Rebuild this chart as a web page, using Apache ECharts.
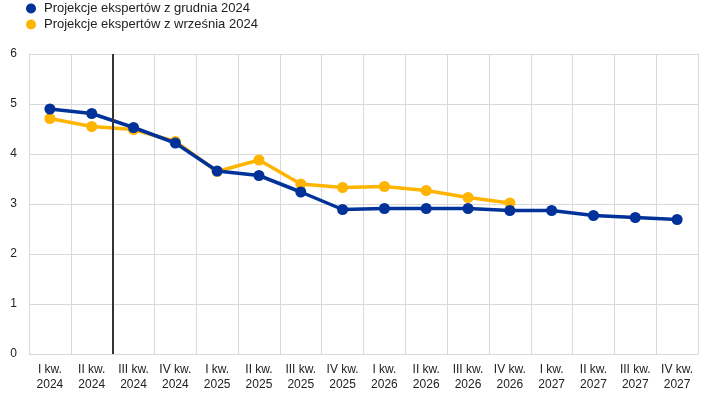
<!DOCTYPE html>
<html>
<head>
<meta charset="utf-8">
<script src="https://cdn.jsdelivr.net/npm/echarts@6/dist/echarts.min.js"></script>
<style>html,body{margin:0;padding:0;background:#fff;}#c{width:708px;height:397px;}</style>
</head>
<body>
<div id="c"></div>
<script>
const categories = ['I kw.\n2024','II kw.\n2024','III kw.\n2024','IV kw.\n2024','I kw.\n2025','II kw.\n2025','III kw.\n2025','IV kw.\n2025','I kw.\n2026','II kw.\n2026','III kw.\n2026','IV kw.\n2026','I kw.\n2027','II kw.\n2027','III kw.\n2027','IV kw.\n2027'];
const decemberName = 'Projekcje ekspertów z grudnia 2024';
const septemberName = 'Projekcje ekspertów z września 2024';
const december = [4.90, 4.81, 4.53, 4.22, 3.66, 3.57, 3.24, 2.89, 2.91, 2.91, 2.91, 2.87, 2.87, 2.77, 2.73, 2.69];
const september = [4.71, 4.55, 4.49, 4.25, 3.65, 3.88, 3.40, 3.33, 3.35, 3.27, 3.13, 3.02];
const yTicks = [0, 1, 2, 3, 4, 5, 6];
const cutoffPosition = 1.5;

const chart = echarts.init(document.getElementById('c'), null, {renderer: 'canvas'});
const font = 'Arial, "Liberation Sans", sans-serif';
chart.setOption({
  animation: false,
  textStyle: {fontFamily: font},
  legend: {
    orient: 'vertical', left: 21, top: 1, itemGap: 3, padding: [1, 5, 5, 5],
    icon: 'circle', itemWidth: 10, itemHeight: 10,
    textStyle: {fontSize: 13, color: '#222', fontFamily: font, padding: [0, 0, 0, 3]},
    data: [decemberName, septemberName]
  },
  grid: {left: 29, right: 10, top: 54, bottom: 43},
  xAxis: [{
    type: 'category', data: categories, boundaryGap: true,
    axisLine: {show: true, lineStyle: {color: '#d9d9d9', width: 1}},
    axisTick: {show: false},
    splitLine: {show: true, interval: 0, lineStyle: {color: '#d9d9d9', width: 1}},
    axisLabel: {interval: 0, fontSize: 12, color: '#222', lineHeight: 15, margin: 8, fontFamily: font}
  }, {
    type: 'value', min: -0.5, max: categories.length - 0.5, show: false
  }],
  yAxis: {
    type: 'value', min: yTicks[0], max: yTicks[yTicks.length - 1], interval: 1,
    axisLine: {show: false}, axisTick: {show: false},
    splitLine: {lineStyle: {color: '#d9d9d9', width: 1}},
    axisLabel: {fontSize: 12, color: '#222', margin: 12, fontFamily: font}
  },
  series: [{
    name: septemberName, type: 'line', data: september,
    symbol: 'circle', symbolSize: 11,
    lineStyle: {color: '#FFB400', width: 3.5},
    itemStyle: {color: '#FFB400'}, z: 2
  }, {
    name: decemberName, type: 'line', data: december,
    symbol: 'circle', symbolSize: 11,
    lineStyle: {color: '#003299', width: 3.5},
    itemStyle: {color: '#003299'}, z: 3
  }, {
    name: 'cutoff', type: 'line', xAxisIndex: 1, data: [],
    markLine: {
      silent: true, symbol: 'none', label: {show: false},
      lineStyle: {color: '#333', width: 2, type: 'solid'},
      data: [{xAxis: cutoffPosition}]
    }
  }]
});
</script>
</body>
</html>
